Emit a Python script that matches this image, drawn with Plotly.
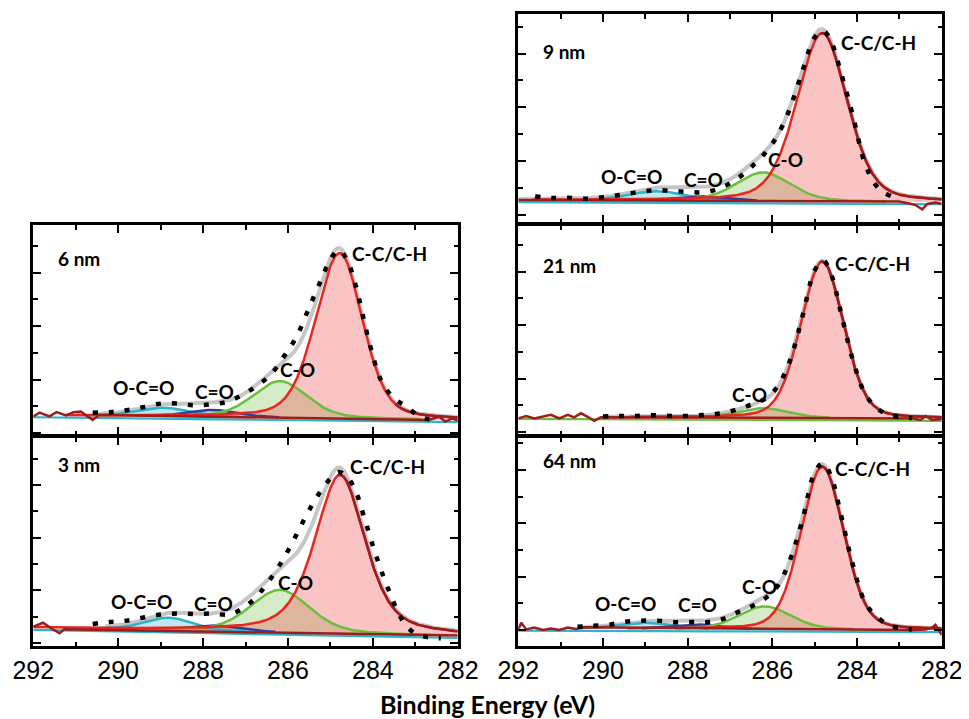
import numpy as np
import plotly.graph_objects as go

# ---------------- data ----------------
X_RANGE = [292, 282]
X_TICKS = [292, 290, 288, 286, 284, 282]

# background endpoints: [intensity at 292 eV, intensity at 282 eV]  (arb. units, 1 unit = 1 minor y tick)
BG_6 = [0.67, 0.49]
BG_3 = [0.58, 0.27]
BG_9 = [0.56, 0.48]
BG_21 = [0.57, 0.50]
BG_64 = [0.06, 0.00]

# fitted components: [centre eV, height, FWHM high-BE side, FWHM low-BE side, Lorentzian fraction]
CC_6 = [284.78, 6.20, 1.35, 1.26, 0.3]
CO_6 = [286.19, 1.38, 1.50, 1.50, 0.3]
CEO_6 = [287.76, 0.27, 1.40, 1.40, 0.3]
OCO_6 = [288.93, 0.33, 1.50, 1.50, 0.3]

CC_3 = [284.77, 6.04, 1.40, 1.38, 0.5]
CO_3 = [286.19, 1.62, 1.64, 1.64, 0.3]
CEO_3 = [287.75, 0.22, 1.40, 1.40, 0.3]
OCO_3 = [288.81, 0.48, 1.35, 1.35, 0.3]

CC_9 = [284.82, 6.26, 1.42, 1.38, 0.3]
CO_9 = [286.22, 1.07, 1.50, 1.50, 0.3]
CEO_9 = [287.70, 0.17, 1.40, 1.40, 0.3]
OCO_9 = [288.72, 0.35, 1.60, 1.60, 0.3]

CC_21 = [284.82, 5.86, 1.20, 1.18, 0.2]
CO_21 = [286.22, 0.36, 1.40, 1.40, 0.2]

CC_64 = [284.82, 6.10, 1.19, 1.19, 0.2]
CO_64 = [286.18, 0.86, 1.45, 1.45, 0.2]
CEO_64 = [287.78, 0.17, 1.40, 1.40, 0.2]
OCO_64 = [289.03, 0.23, 1.50, 1.50, 0.2]

# measured spectra (black dots)
RAW_6_X = [290.6, 290.2, 289.8, 289.4, 289.0, 288.6, 288.2, 287.8, 287.4, 287.0, 286.7, 286.4, 286.1,
           285.8, 285.5, 285.2, 285.0, 284.8, 284.6, 284.4, 284.1, 283.8, 283.5, 283.2, 282.9, 282.6]
RAW_6_Y = [0.76, 0.78, 0.85, 0.97, 1.10, 1.10, 1.04, 1.08, 1.18, 1.50, 1.80, 2.20, 2.85,
           3.60, 4.70, 5.80, 6.50, 6.85, 6.45, 5.50, 3.50, 1.95, 1.30, 0.98, 0.62, 0.48]

RAW_3_X = [290.6, 290.2, 289.8, 289.4, 289.0, 288.6, 288.2, 287.8, 287.4, 287.1, 286.8, 286.5, 286.2, 285.9,
           285.6, 285.3, 285.0, 284.8, 284.6, 284.4, 284.2, 283.9, 283.6, 283.3, 283.0, 282.7, 282.4]
RAW_3_Y = [0.72, 0.80, 0.85, 0.97, 1.08, 1.12, 1.10, 1.12, 1.08, 1.28, 1.66, 2.24, 2.95, 3.80,
           4.75, 5.60, 6.25, 6.50, 6.30, 5.75, 4.75, 3.20, 1.90, 0.85, 0.35, 0.22, 0.18]

RAW_9_X = [291.6, 291.2, 290.8, 290.4, 290.0, 289.6, 289.2, 288.8, 288.4, 288.0, 287.6, 287.2, 286.8,
           286.5, 286.2, 285.9, 285.6, 285.3, 285.0, 284.8, 284.6, 284.4, 284.1, 283.8, 283.5, 283.2]
RAW_9_Y = [0.70, 0.63, 0.64, 0.60, 0.66, 0.74, 0.84, 0.92, 0.90, 0.86, 0.85, 1.02, 1.38,
           1.78, 2.25, 2.90, 3.90, 5.30, 6.60, 6.85, 6.40, 5.40, 3.70, 1.85, 1.00, 0.70]

RAW_21_X = [290.0, 289.6, 289.2, 288.8, 288.4, 288.0, 287.6, 287.2, 286.8, 286.5, 286.2, 285.9,
            285.6, 285.3, 285.0, 284.8, 284.6, 284.4, 284.1, 283.8, 283.5, 283.2, 282.9, 282.7]
RAW_21_Y = [0.58, 0.60, 0.60, 0.63, 0.60, 0.60, 0.64, 0.70, 0.86, 1.02, 1.22, 1.65,
            2.60, 4.25, 6.05, 6.42, 5.85, 4.60, 2.70, 1.40, 0.85, 0.62, 0.55, 0.52]

RAW_64_X = [290.6, 290.3, 289.9, 289.5, 289.1, 288.7, 288.3, 287.9, 287.5, 287.1, 286.8, 286.5, 286.2,
            285.9, 285.6, 285.3, 285.0, 284.8, 284.6, 284.4, 284.1, 283.8, 283.5, 283.2, 282.9, 282.7]
RAW_64_Y = [0.12, 0.15, 0.19, 0.30, 0.35, 0.35, 0.29, 0.30, 0.30, 0.45, 0.68, 0.88, 1.15,
            1.60, 2.55, 4.05, 5.90, 6.25, 5.70, 4.45, 2.45, 1.00, 0.45, 0.15, 0.06, 0.03]

# background trace with the noisy ends
NOISE_6_X = [292.0, 291.85, 291.62, 291.45, 291.23, 291.05, 290.88, 290.75, 290.6, 290.45,
             282.68, 282.44, 282.29, 282.13, 282.0]
NOISE_6_Y = [0.62, 0.76, 0.62, 0.78, 0.66, 0.78, 0.80, 0.66, 0.49, 0.67,
             0.49, 0.61, 0.43, 0.55, 0.46]
NOISE_3_X = [292.0, 291.77, 291.58, 291.38, 291.27, 282.4, 282.2, 282.0]
NOISE_3_Y = [0.62, 0.77, 0.56, 0.37, 0.52, 0.28, 0.26, 0.28]
NOISE_9_X = [292.0, 283.01, 282.77, 282.62, 282.46, 282.34, 282.15, 282.0]
NOISE_9_Y = [0.56, 0.50, 0.43, 0.37, 0.21, 0.41, 0.46, 0.41]
NOISE_21_X = [292.0, 291.81, 291.62, 291.42, 291.23, 291.03, 290.83, 290.68, 290.52, 290.36, 290.21, 290.05,
              282.70, 282.50, 282.38, 282.23, 282.0]
NOISE_21_Y = [0.51, 0.60, 0.51, 0.57, 0.64, 0.51, 0.64, 0.55, 0.70, 0.57, 0.42, 0.55,
              0.51, 0.45, 0.60, 0.45, 0.49]
NOISE_64_X = [292.0, 291.93, 291.81, 291.62, 291.42, 291.23, 291.03, 290.83, 290.64, 290.44,
              282.70, 282.38, 282.23, 282.15, 282.07, 282.0]
NOISE_64_Y = [0.00, 0.27, 0.02, 0.09, 0.00, 0.06, 0.00, 0.09, 0.04, 0.10,
              0.00, 0.02, 0.09, 0.19, 0.00, -0.19]

# text labels: (text, x eV, y, anchor)
LABELS_6 = [("6 nm", 291.47, 6.55, "left"), ("C-C/C-H", 284.55, 6.74, "left"),
            ("C-O", 285.77, 2.36, "center"), ("C=O", 287.73, 1.54, "center"), ("O-C=O", 289.41, 1.69, "center")]
LABELS_3 = [("3 nm", 291.46, 6.79, "left"), ("C-C/C-H", 284.58, 6.70, "left"),
            ("C-O", 285.82, 2.29, "center"), ("C=O", 287.75, 1.51, "center"), ("O-C=O", 289.45, 1.57, "center")]
LABELS_9 = [("9 nm", 291.46, 6.07, "left"), ("C-C/C-H", 284.42, 6.41, "left"),
            ("C-O", 285.70, 2.07, "center"), ("C=O", 287.63, 1.33, "center"), ("O-C=O", 289.32, 1.42, "center")]
LABELS_21 = [("21 nm", 291.46, 6.25, "left"), ("C-C/C-H", 284.57, 6.32, "left"),
             ("C-O", 286.55, 1.42, "center")]
LABELS_64 = [("64 nm", 291.46, 6.34, "left"), ("C-C/C-H", 284.57, 6.06, "left"),
             ("C-O", 286.31, 1.62, "center"), ("C=O", 287.77, 0.94, "center"), ("O-C=O", 289.47, 1.00, "center")]

# ---------------- styling ----------------
C_RED, C_RED_FILL, C_DARKRED = "#e8251f", "rgba(238,60,60,0.30)", "#9e1c1c"
C_GREEN, C_GREEN_FILL = "#6abf3f", "rgba(120,190,70,0.30)"
C_BLUE, C_BLUE_FILL = "#2c3e9e", "rgba(60,80,180,0.25)"
C_CYAN, C_CYAN_FILL = "#2cb5c9", "rgba(60,185,210,0.32)"
C_ENV = "#c6c6c6"

LABEL_FONT = dict(family="Lato, Liberation Sans, sans-serif", size=19, color="black")

# figure is placed 8 px in from the page corner (page body margin)
W, H, OFF = 961, 711, 8
LW = 2.5


def xdom(a, b):
    return [(a - OFF + LW / 2) / W, (b - OFF - LW / 2) / W]


def ydom(top, bot):
    return [1 - (bot - OFF - LW / 2) / H, 1 - (top - OFF + LW / 2) / H]


XL = xdom(32, 459)
XR = xdom(517, 943)
ROW1 = ydom(13, 224)
ROW2 = ydom(224, 436)
ROW3 = ydom(436, 647)

PANEL_DEFS = [
    dict(bg=BG_6, comps=[OCO_6, CEO_6, CO_6, CC_6], raw=(RAW_6_X, RAW_6_Y), noise=(NOISE_6_X, NOISE_6_Y),
         labels=LABELS_6, xd=XL, yd=ROW2, yr=[-0.066, 7.78], ticklabels=False, strip=C_CYAN, envfrom=290.5,
         dark=False),
    dict(bg=BG_3, comps=[OCO_3, CEO_3, CO_3, CC_3], raw=(RAW_3_X, RAW_3_Y), noise=(NOISE_3_X, NOISE_3_Y),
         labels=LABELS_3, xd=XL, yd=ROW3, yr=[-0.105, 7.82], ticklabels=True, strip=C_CYAN, envfrom=290.3,
         dark=True),
    dict(bg=BG_9, comps=[OCO_9, CEO_9, CO_9, CC_9], raw=(RAW_9_X, RAW_9_Y), noise=(NOISE_9_X, NOISE_9_Y),
         labels=LABELS_9, xd=XR, yd=ROW1, yr=[-0.288, 7.46], ticklabels=False, strip=C_CYAN, envfrom=292.0,
         dark=True),
    dict(bg=BG_21, comps=[None, None, CO_21, CC_21], raw=(RAW_21_X, RAW_21_Y), noise=(NOISE_21_X, NOISE_21_Y),
         labels=LABELS_21, xd=XR, yd=ROW2, yr=[-0.103, 7.74], ticklabels=False, strip=C_GREEN, envfrom=290.0,
         dark=True),
    dict(bg=BG_64, comps=[OCO_64, CEO_64, CO_64, CC_64], raw=(RAW_64_X, RAW_64_Y), noise=(NOISE_64_X, NOISE_64_Y),
         labels=LABELS_64, xd=XR, yd=ROW3, yr=[-0.59, 7.22], ticklabels=True, strip=C_CYAN, envfrom=290.5,
         dark=True),
]

COMP_STYLE = [(C_CYAN, C_CYAN_FILL), (C_BLUE, C_BLUE_FILL), (C_GREEN, C_GREEN_FILL), (C_RED, C_RED_FILL)]


def peak(x, p):
    c, h, wl, wr, eta = p
    w = np.where(x >= c, wl, wr)
    r2 = ((x - c) / w) ** 2
    return h * ((1 - eta) * np.exp(-4 * np.log(2) * r2) + eta / (1 + 4 * r2))


def background(x, bg):
    return bg[0] + (bg[1] - bg[0]) * (292.0 - x) / 10.0


grid = np.linspace(292, 282, 1001)

fig = go.Figure()
annotations = []
layout_axes = {}

for i, P in enumerate(PANEL_DEFS, start=1):
    xa = "x" if i == 1 else f"x{i}"
    ya = "y" if i == 1 else f"y{i}"
    b = background(grid, P["bg"])
    total = b.copy()
    comp_vals = []
    for p in P["comps"]:
        if p is None:
            comp_vals.append(None)
            continue
        v = peak(grid, p)
        total += v
        comp_vals.append(v)

    # fills
    for v, (lc, fc) in zip(comp_vals, COMP_STYLE):
        if v is None:
            continue
        m = v > 0.02
        gx = grid[m]
        top = (b + v)[m]
        bot = b[m]
        fig.add_trace(go.Scatter(x=np.concatenate([gx, gx[::-1]]), y=np.concatenate([top, bot[::-1]]),
                                 fill="toself", fillcolor=fc, line=dict(width=0), mode="lines",
                                 xaxis=xa, yaxis=ya, hoverinfo="skip", showlegend=False))
    # coloured strip under the background
    fig.add_trace(go.Scatter(x=grid, y=b - 0.08, mode="lines", line=dict(color=P["strip"], width=2.2),
                             xaxis=xa, yaxis=ya, hoverinfo="skip", showlegend=False))
    # envelope
    me = grid <= P["envfrom"]
    fig.add_trace(go.Scatter(x=grid[me], y=total[me], mode="lines", line=dict(color=C_ENV, width=4),
                             xaxis=xa, yaxis=ya, hoverinfo="skip", showlegend=False))
    # component lines
    for k, (v, (lc, fc)) in enumerate(zip(comp_vals, COMP_STYLE)):
        if v is None:
            continue
        m = v > 0.02
        fig.add_trace(go.Scatter(x=grid[m], y=(b + v)[m], mode="lines", line=dict(color=lc, width=2.5),
                                 xaxis=xa, yaxis=ya, hoverinfo="skip", showlegend=False))
        if k == 3:
            c = P["comps"][3][0]
            if P["dark"]:
                mr = m & (grid <= c + 0.05)
            else:
                mr = m & (grid <= c - 1.3)
            fig.add_trace(go.Scatter(x=grid[mr], y=(b + v)[mr], mode="lines",
                                     line=dict(color=C_DARKRED, width=2.5),
                                     xaxis=xa, yaxis=ya, hoverinfo="skip", showlegend=False))
    # background with noisy ends
    fig.add_trace(go.Scatter(x=P["noise"][0], y=P["noise"][1], mode="lines",
                             line=dict(color=C_DARKRED, width=2.5),
                             xaxis=xa, yaxis=ya, hoverinfo="skip", showlegend=False))
    # measured data
    fig.add_trace(go.Scatter(x=P["raw"][0], y=P["raw"][1], mode="lines", line_shape="spline",
                             line=dict(color="black", width=4.5, dash="5px,11px"),
                             xaxis=xa, yaxis=ya, hoverinfo="skip", showlegend=False))

    for (t, lx, ly, anc) in P["labels"]:
        annotations.append(dict(text=f"<b>{t}</b>", x=lx, y=ly, xref=xa, yref=ya, xanchor=anc,
                                yanchor="middle", showarrow=False, font=LABEL_FONT))

    axis_common = dict(showline=True, linewidth=LW, linecolor="black", mirror="ticks",
                       ticks="inside", tickwidth=2, ticklen=8, tickcolor="black",
                       showgrid=False, zeroline=False, automargin=False)
    layout_axes["xaxis" if i == 1 else f"xaxis{i}"] = dict(
        axis_common, domain=P["xd"], range=X_RANGE, anchor=ya, tickmode="array", tickvals=X_TICKS,
        showticklabels=P["ticklabels"],
        tickfont=dict(family="Liberation Sans, Arial, sans-serif", size=25, color="black"),
        minor=dict(dtick=1, ticklen=4.5, tickwidth=2, tickcolor="black", ticks="inside"))
    layout_axes["yaxis" if i == 1 else f"yaxis{i}"] = dict(
        axis_common, domain=P["yd"], range=P["yr"], anchor=xa, tick0=0, dtick=2, showticklabels=False,
        minor=dict(dtick=1, tick0=0, ticklen=4.5, tickwidth=2, tickcolor="black", ticks="inside"))

annotations.append(dict(text="<b>Binding Energy (eV)</b>", x=(487 - OFF) / W, y=1 - (704 - OFF) / H,
                        xref="paper", yref="paper", xanchor="center", yanchor="middle", showarrow=False,
                        font=dict(family="Lato, Liberation Sans, sans-serif", size=25, color="black")))

fig.update_layout(width=W, height=H, margin=dict(l=0, r=0, t=0, b=0, autoexpand=False),
                  paper_bgcolor="white", plot_bgcolor="white", showlegend=False,
                  annotations=annotations, **layout_axes)

fig.write_html("out.html")
